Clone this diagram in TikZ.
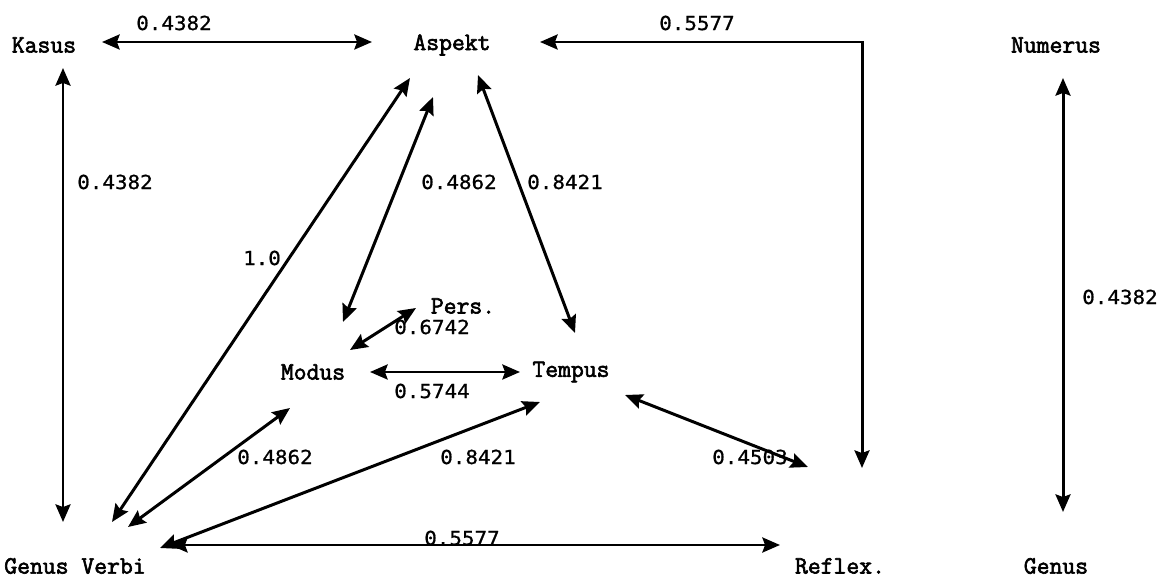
\documentclass[tikz,border=0pt]{standalone}
\usepackage{fontspec}
\usepackage{tikz}
\usetikzlibrary{
    arrows.meta,
    positioning
}
\newfontfamily\namefont[FakeBold=2.5]{Latin Modern Mono}
\newfontfamily\numfont[FakeStretch=1.08,FakeBold=0.8]{DejaVu Sans Mono}
\tikzset{
    term/.style={inner sep=0pt, font=\namefont\fontsize{14.2}{17}\selectfont},
    weight/.style={inner sep=0pt, font=\numfont\fontsize{11}{13}\selectfont},
    link/.style={{Stealth[length=10pt,width=8.5pt,inset=1.5pt]}-{Stealth[length=10pt,width=8.5pt,inset=1.5pt]}, line width=1.7pt}
}
\begin{document}
\begin{tikzpicture}[x=0.2mm, y=0.2mm]
    \useasboundingbox (0, 0) rectangle (1157, -577);
    % categories
    \node[term] (kasus) at (44, -45) {Kasus};
    \node[term] (aspekt) at (452, -45) {Aspekt};
    \node[term] (numerus) at (1056, -45) {Numerus};
    \node[term] (pers) at (463, -306) {Pers.};
    \node[term] (modus) at (313, -372) {Modus};
    \node[term] (tempus) at (571, -372) {Tempus};
    \node[term] (gv) at (75, -566) {Genus Verbi};
    \node[term] (reflex) at (840, -566) {Reflex.};
    \node[term] (genus) at (1056, -566) {Genus};
    % weights
    \node[weight] (w-ka) at (174, -23) {0.4382};
    \node[weight] (w-ar) at (697, -23) {0.5577};
    \node[weight] (w-kg) at (115, -182) {0.4382};
    \node[weight] (w-ng) at (1120, -297) {0.4382};
    \node[weight] (w-ag) at (262, -258) {1.0};
    \node[weight] (w-am) at (459, -182) {0.4862};
    \node[weight] (w-at) at (565, -182) {0.8421};
    \node[weight] (w-pm) at (432, -327) {0.6742};
    \node[weight] (w-mt) at (432, -391) {0.5744};
    \node[weight] (w-gm) at (275, -457) {0.4862};
    \node[weight] (w-gt) at (478, -457) {0.8421};
    \node[weight] (w-tr) at (750, -457) {0.4503};
    \node[weight] (w-gr) at (462, -538) {0.5577};
    % links
    \draw[link] ([shift={(58,3)}]kasus.center) -- ([shift={(-80,3)}]aspekt.center);
    \draw[link] ([shift={(88,3)}]aspekt.center) -| ([shift={(22,98)}]reflex.center);
    \draw[link] ([shift={(19,-23)}]kasus.center) -- ([shift={(-12,44)}]gv.center);
    \draw[link] ([shift={(7,-33)}]numerus.center) -- ([shift={(7,54)}]genus.center);
    \draw[link] ([shift={(-42,-33)}]aspekt.center) -- ([shift={(37,44)}]gv.center);
    \draw[link] ([shift={(-19,-52)}]aspekt.center) -- ([shift={(30,50)}]modus.center);
    \draw[link] ([shift={(26,-30)}]aspekt.center) -- ([shift={(4,39)}]tempus.center);
    \draw[link] ([shift={(-47,-2)}]pers.center) -- ([shift={(37,22)}]modus.center);
    \draw[link] ([shift={(57,0)}]modus.center) -- ([shift={(-51,0)}]tempus.center);
    \draw[link] ([shift={(53,39)}]gv.center) -- ([shift={(-23,-36)}]modus.center);
    \draw[link] ([shift={(85,18)}]gv.center) -- ([shift={(-31,-30)}]tempus.center);
    \draw[link] ([shift={(54,-23)}]tempus.center) -- ([shift={(-32,99)}]reflex.center);
    \draw[link] ([shift={(95,21)}]gv.center) -- ([shift={(-60,21)}]reflex.center);
\end{tikzpicture}
\end{document}
